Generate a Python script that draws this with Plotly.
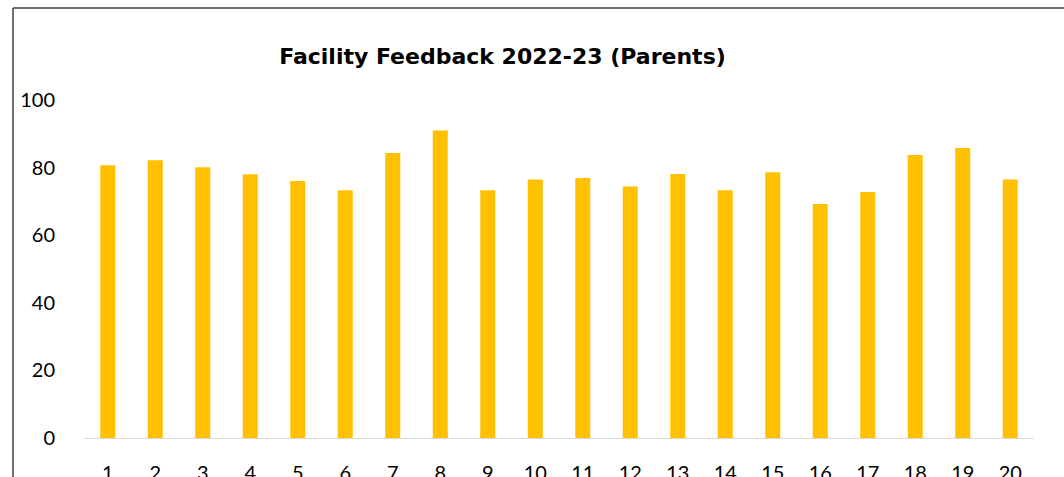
import plotly.graph_objects as go

categories = [str(i) for i in range(1, 21)]
values = [80.7, 82.2, 80.1, 78.0, 76.0, 73.3, 84.3, 91.0, 73.3, 76.5,
          76.9, 74.4, 78.1, 73.3, 78.6, 69.2, 72.8, 83.7, 85.8, 76.5]
y_ticks = [0, 20, 40, 60, 80, 100]

W, H = 1064, 477
L, R, T, B = 84, 30, 100, 39
pw = W - L - R
ph = H - T - B

fig = go.Figure(go.Bar(x=categories, y=values, marker=dict(color="#FFC000", line=dict(width=0))))

def px_x(p):
    return (p - L) / pw

def px_y(p):
    return (H - B - p) / ph

fig.update_layout(
    width=W, height=H,
    margin=dict(l=L, r=R, t=T, b=B, pad=0, autoexpand=False),
    paper_bgcolor="white", plot_bgcolor="white",
    bargap=0.684,
    font=dict(family="Lato, Carlito, sans-serif", color="black", size=20),
    title=dict(text="<b>Facility Feedback 2022-23 (Parents)</b>", x=502.5 / W, xanchor="center",
               y=1 - 56 / H, yanchor="middle", automargin=False,
               font=dict(family="DejaVu Sans, sans-serif", size=22, color="black")),
    xaxis=dict(type="category", showline=True, linecolor="#D9D9D9", linewidth=1,
               automargin=False, ticks="", showgrid=False, ticklabelstandoff=17,
               tickfont=dict(size=20)),
    yaxis=dict(range=[0, 100], tickvals=y_ticks, showgrid=False, zeroline=False,
               automargin=False, showline=False, ticks="", ticklabelstandoff=28,
               tickfont=dict(size=20)),
    showlegend=False,
    shapes=[
        dict(type="line", xref="paper", yref="paper", x0=px_x(13), x1=px_x(13),
             y0=px_y(477), y1=px_y(8), line=dict(color="#404040", width=1.5)),
        dict(type="line", xref="paper", yref="paper", x0=px_x(13), x1=px_x(1064),
             y0=px_y(8), y1=px_y(8), line=dict(color="#404040", width=1.5)),
    ],
)

fig.write_html("out.html", config={"responsive": False, "displayModeBar": False},
               post_script="document.body.style.margin='0';document.body.style.overflow='hidden';")
